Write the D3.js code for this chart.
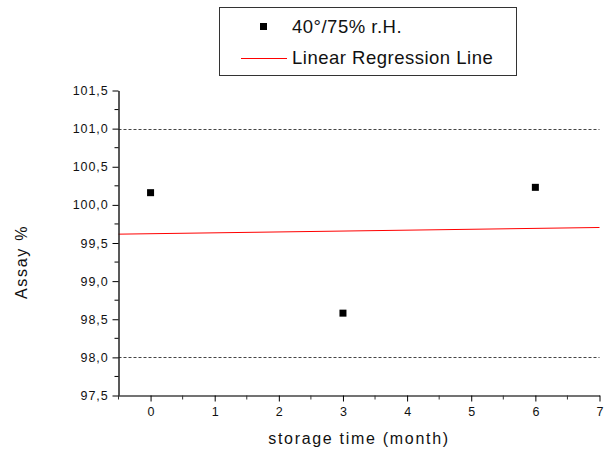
<!DOCTYPE html>
<html>
<head>
<meta charset="utf-8">
<script src="https://cdn.jsdelivr.net/npm/d3@7"></script>
<style>
  body { margin: 0; background: #fff; }
  text { font-family: Arial, "Liberation Sans", sans-serif; fill: #111; }
</style>
</head>
<body>
<svg id="chart" width="608" height="455"></svg>
<script>
// data
var months = [0, 3, 6];
var assay = [100.16, 98.58, 100.23];
var limits = [98.0, 101.0];
var xTicks = [0, 1, 2, 3, 4, 5, 6, 7];
var yTicks = [97.5, 98.0, 98.5, 99.0, 99.5, 100.0, 100.5, 101.0, 101.5];
var legendLabels = ["40°/75% r.H.", "Linear Regression Line"];

var svg = d3.select("#chart");

var x = d3.scaleLinear().domain([-0.5, 7]).range([118.5, 599.5]);
var y = d3.scaleLinear().domain([97.5, 101.5]).range([395.5, 90.5]);

// least squares fit through the points
var mx = d3.mean(months), my = d3.mean(assay);
var slope = d3.sum(months, function(d, i) { return (d - mx) * (assay[i] - my); }) /
            d3.sum(months, function(d) { return (d - mx) * (d - mx); });
var intercept = my - slope * mx;

// dotted limit lines
svg.selectAll(".limit").data(limits).enter().append("line")
    .attr("class", "limit")
    .attr("x1", x(-0.5)).attr("x2", x(7))
    .attr("y1", function(d) { return Math.round(y(d)) + 0.5; })
    .attr("y2", function(d) { return Math.round(y(d)) + 0.5; })
    .style("stroke", "#444")
    .style("stroke-width", 1)
    .style("stroke-dasharray", "3,2");

// regression line
svg.append("line")
    .attr("x1", x(-0.5)).attr("y1", y(intercept + slope * -0.5))
    .attr("x2", x(7)).attr("y2", y(intercept + slope * 7))
    .style("stroke", "red")
    .style("stroke-width", 1);

// y axis
var yAxis = d3.axisLeft(y).tickValues(yTicks).tickSize(6).tickSizeOuter(0)
    .tickFormat(function(d) { return d3.format(".1f")(d).replace(".", ","); });
var gy = svg.append("g").attr("transform", "translate(" + x(-0.5) + ",0)").call(yAxis);
gy.selectAll(".tick text").style("font-size", "12.5px").style("letter-spacing", "0.9px").attr("x", -10);

var yMinor = d3.range(97.75, 101.5, 0.5);
gy.selectAll(".minor").data(yMinor).enter().append("line")
    .attr("class", "minor")
    .attr("x1", -4).attr("x2", 0)
    .attr("y1", function(d) { return y(d); }).attr("y2", function(d) { return y(d); })
    .style("stroke", "#000");

// x axis
var xAxis = d3.axisBottom(x).tickValues(xTicks).tickSize(6).tickSizeOuter(0);
var gx = svg.append("g").attr("transform", "translate(0," + y(97.5) + ")").call(xAxis);
gx.selectAll(".tick text").style("font-size", "12.5px").attr("y", 12);

var xMinor = d3.range(-0.5, 7, 1);
gx.selectAll(".minor").data(xMinor).enter().append("line")
    .attr("class", "minor")
    .attr("x1", function(d) { return x(d); }).attr("x2", function(d) { return x(d); })
    .attr("y1", 0).attr("y2", 4)
    .style("stroke", "#333");

svg.selectAll(".domain").style("stroke", "#222").style("stroke-width", 1.5);
gx.select(".domain").style("stroke", "#444");

// points
svg.selectAll(".pt").data(months).enter().append("rect")
    .attr("class", "pt")
    .attr("x", function(d) { return x(d) - 3.5; })
    .attr("y", function(d, i) { return y(assay[i]) - 3.5; })
    .attr("width", 7).attr("height", 7)
    .style("fill", "#000");

// axis titles
svg.append("text")
    .attr("x", 359).attr("y", 444)
    .attr("text-anchor", "middle")
    .style("font-size", "16px")
    .style("letter-spacing", "1.7px")
    .text("storage time (month)");

svg.append("text")
    .attr("transform", "translate(27,262) rotate(-90)")
    .attr("text-anchor", "middle")
    .style("font-size", "16px")
    .style("letter-spacing", "1.7px")
    .text("Assay %");

// legend
var legend = svg.append("g");
legend.append("rect")
    .attr("x", 219.5).attr("y", 7.5).attr("width", 297).attr("height", 68)
    .style("fill", "#fff").style("stroke", "#333").style("stroke-width", 1);
legend.append("rect")
    .attr("x", 260).attr("y", 23).attr("width", 7).attr("height", 7)
    .style("fill", "#000");
legend.append("line")
    .attr("x1", 241).attr("x2", 287).attr("y1", 58.5).attr("y2", 58.5)
    .style("stroke", "red").style("stroke-width", 1);
legend.selectAll(".lt").data(legendLabels).enter().append("text")
    .attr("class", "lt")
    .attr("x", 292)
    .attr("y", function(d, i) { return 33 + i * 31; })
    .style("font-size", "18.5px")
    .style("letter-spacing", "0.5px")
    .text(function(d) { return d; });
</script>
</body>
</html>
